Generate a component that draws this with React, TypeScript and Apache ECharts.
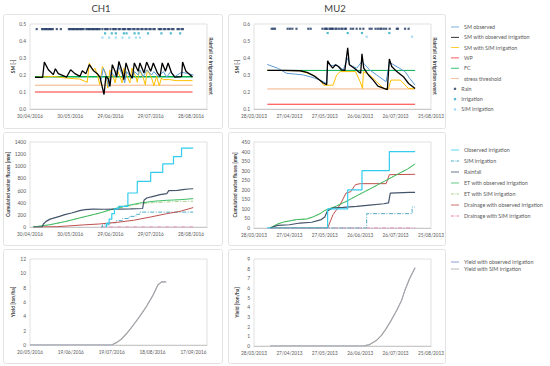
import { useEffect, useRef } from 'react';
import * as echarts from 'echarts';

type P = [number, number][];

const FONT = 'Lato, "Open Sans", "DejaVu Sans", sans-serif';

// x axes: days counted from these start dates
const CH1_START = [2016, 4, 30];
const CH1_YIELD_START = [2016, 5, 20];
const MU2_START = [2013, 3, 28];

// ---------- CH1 soil moisture ----------
const ch1SmObsIrr: P = [[3.7,0.186],[9.4,0.186],[10.7,0.276],[13.7,0.231],[17.4,0.202],[18.9,0.237],[21.1,0.208],[27.3,0.188],[30.3,0.231],[33.5,0.208],[37.3,0.192],[39,0.225],[41.7,0.208],[44.2,0.261],[47.2,0.227],[50.2,0.208],[52.2,0.188],[55.2,0.085],[56.6,0.192],[58.4,0.178],[59.6,0.133],[61.4,0.261],[63.4,0.222],[64.6,0.188],[66.3,0.28],[69,0.212],[70,0.173],[71.6,0.271],[74.5,0.202],[76.3,0.182],[77.8,0.271],[80.7,0.222],[82,0.271],[85,0.212],[87,0.276],[90,0.222],[92,0.271],[95,0.212],[97,0.192],[98.6,0.271],[101,0.222],[103,0.271],[105.6,0.212],[108,0.188],[113,0.19],[113.8,0.276],[116.3,0.222],[119.3,0.202],[121.2,0.188]];
const ch1SmSim: P = [[3.7,0.186],[17.4,0.192],[27,0.182],[37,0.176],[42.7,0.157],[44.2,0.27],[47,0.227],[48.4,0.24],[50.4,0.2],[52,0.143],[54,0.25],[56.6,0.21],[58,0.123],[59.6,0.23],[62,0.19],[63.6,0.153],[65,0.23],[67.6,0.182],[68.6,0.153],[70,0.24],[73,0.182],[74.5,0.153],[76,0.24],[79,0.188],[80,0.157],[81.5,0.23],[84.5,0.182],[86,0.143],[87.5,0.23],[90.7,0.182],[92.4,0.137],[94.4,0.192],[96.4,0.137],[98,0.182],[99.4,0.173],[104,0.173],[109,0.167],[121.2,0.167]];
const ch1SmObserved: P = [[53,0.172],[54.7,0.24],[57,0.19],[58.6,0.13],[60.6,0.22],[63,0.19],[66,0.25],[69,0.2],[70.6,0.153],[72,0.22],[75.8,0.18],[78,0.22],[80.7,0.2],[82,0.23],[84.5,0.19],[87,0.23],[90.7,0.2],[92.4,0.22],[95.6,0.19],[99.4,0.22],[102,0.188],[105,0.22],[108,0.19],[113,0.216],[117,0.21],[122,0.2]];
const ch1Wp: P = [[3.7,0.1],[121.2,0.1]];
const ch1Fc: P = [[3.7,0.19],[121.2,0.19]];
const ch1Stress: P = [[3.7,0.14],[121.2,0.14]];
const ch1RainDays = [5,9,10,11,12,13,14,15,16,17,20,23,29,30,31,32,33,34,35,36,37,38,39,40,42,43,44,45,46,47,48,49,50,51,52,54,56,57,58,60,62,63,64,66,67,69,70,71,73,74,75,77,78,80,81,83,84,86,87,89,90,92,93,96,97,98,100,101,103,104,106,107,110,111,113,114];
const ch1IrrDays = [56,61,64,70,72,78,81,88,98,105,112];
const ch1SimIrrDays = [54,59,64,69,74,79,82];

// ---------- MU2 soil moisture ----------
const mu2SmObsIrr: P = [[11.3,0.327],[25,0.327],[39,0.325],[45,0.315],[52,0.29],[58.8,0.253],[61.6,0.243],[62.4,0.384],[64.4,0.36],[66.7,0.34],[69,0.36],[71.5,0.35],[74,0.33],[77,0.327],[79.4,0.46],[80.8,0.36],[85,0.34],[88.4,0.32],[90.4,0.31],[91.5,0.425],[93,0.34],[97,0.3],[101,0.27],[105,0.235],[113,0.214],[114.7,0.394],[116.7,0.35],[121,0.32],[126.6,0.29],[131,0.25],[136.5,0.22]];
const mu2SmObserved: P = [[11.3,0.362],[20,0.34],[27.7,0.31],[35,0.305],[42,0.3],[50,0.285],[56,0.27],[61.6,0.25],[62.4,0.37],[66,0.355],[70,0.36],[75.7,0.33],[79.4,0.4],[81,0.36],[87,0.34],[91.5,0.38],[94,0.36],[98,0.33],[104,0.3],[112,0.26],[114.7,0.375],[122,0.345],[128,0.32],[132,0.28],[136.5,0.24]];
const mu2SmSim: P = [[11.3,0.327],[39,0.325],[50,0.3],[57,0.26],[59,0.24],[67,0.24],[70,0.3],[73,0.32],[86,0.32],[90,0.26],[92,0.22],[92.7,0.32],[98,0.3],[104,0.26],[110,0.22],[114,0.22],[116,0.27],[124,0.27],[131,0.22],[136.5,0.22]];
const mu2Wp: P = [[11.3,0.128],[136.5,0.128]];
const mu2Fc: P = [[11.3,0.327],[136.5,0.327]];
const mu2Stress: P = [[11.3,0.218],[136.5,0.218]];
const mu2RainDays = [15,16.4,17.8,28.5,30.5,32.5,36,46,48,58,60,61,62,64,65,66,67,69,70,72,74,75,77,78,82,84,87,90,92.7,98,99.7,103,105,107,108,110,112,115,121,122,128,131];
const mu2IrrDays = [62.4,79.4,91.5,114.7];
const mu2SimIrrDays = [95.5,134];

// ---------- CH1 cumulated water fluxes [mm] ----------
const ch1CumIrr: P = [[56,0],[57,60],[59,130],[61,220],[63,300],[66,340],[73,560],[80,750],[90,900],[99,1040],[107,1160],[113,1300],[121.7,1300]];
const ch1CumSimIrr: P = [[53,0],[54,35],[59,70],[64,105],[69,140],[74,175],[79,210],[82,245],[121.7,245]];
const ch1CumRain: P = [[2.5,0],[9,0],[10,50],[12,93],[15,130],[22,175],[26,203],[31,230],[37,270],[41,285],[47,296],[55,292],[65,295],[75,298],[84,305],[85,440],[87,478],[92,505],[97,532],[102,550],[103.5,598],[110,604],[114,615],[118,626],[121.7,630]];
const ch1EtObs: P = [[2.5,0],[15,38],[27,93],[40,165],[52,230],[60,285],[72,351],[82,395],[92,423],[102,440],[112,450],[121.7,467]];
const ch1EtSim: P = [[2.5,0],[15,38],[27,93],[40,165],[52,230],[60,280],[72,340],[82,380],[92,400],[102,412],[112,420],[121.7,425]];
const ch1DrainObs: P = [[2.5,0],[20,5],[40,35],[52,50],[65,77],[77,110],[90,165],[102,220],[112,258],[121.7,320]];
const ch1DrainSim: P = [[53,0],[121.7,0]];

// ---------- MU2 cumulated water fluxes [mm] ----------
const mu2CumIrr: P = [[11.3,0],[62.4,100],[79.4,200],[91.5,300],[114.7,400],[136.5,400]];
const mu2CumSimIrr: P = [[11.3,0],[95.5,75],[134,110],[136.5,110]];
const mu2CumRain: P = [[13.6,0],[20,14],[30,17],[39,26],[49,30],[57,44],[60,58],[62,87],[64,96],[67,105],[75.7,108],[87,113],[98,120],[110,127],[114,131],[115.5,183],[132,186],[136.5,186]];
const mu2EtObs: P = [[13.6,0],[20,21],[25,31],[36,44],[44.6,47],[50,58],[56,75],[60,92],[64,101],[70,115],[80,145],[90,178],[100,210],[110,243],[120,276],[130,308],[136.5,335]];
const mu2EtSim: P = [[13.6,0],[20,21],[25,31],[36,44],[44.6,47],[50,58],[56,75],[60,92],[64,101],[70,115],[80,145],[90,178],[100,210],[110,243],[120,276],[130,308],[136.5,335]];
const mu2DrainObs: P = [[13.6,0],[62.4,0],[67,70],[73,122],[78,183],[82,190],[86,227],[90,232],[112,232],[114.7,279],[136.5,281]];
const mu2DrainSim: P = [[13.6,0],[136.5,0]];

// ---------- Yield [ton/ha] ----------
const ch1Yield: P = [[0,0],[60,0],[63.4,0.33],[67,0.8],[71,1.6],[76,2.8],[80.6,4],[85.6,5.4],[90.5,7],[94,8.4],[96.6,8.8],[100,8.8]];
const mu2Yield: P = [[13.6,0],[92.7,0],[98,0.15],[104,0.6],[108,1.1],[112,1.8],[116,2.6],[121,3.7],[125,4.7],[128,5.8],[132,7.0],[136.5,8.1]];

const C = {
  smObs: '#5B9BD5', black: '#000000', smSim: '#FFC000', wp: '#FF3333', fc: '#00B050', stress: '#F4B183',
  rain: '#1F3864', irr: '#27A9C1', simIrr: '#8FD5F0',
  cumIrr: '#33CCEE', cumSim: '#4BACC6', cumRain: '#44546A', etObs: '#3DBB63', etSim: '#A9D18E',
  drObs: '#C0504D', drSim: '#E87DB5', yObs: '#7083C8', ySim: '#A6A6A6',
};
const DASHDOT = [4, 1.5, 1, 1.5];
const ICON_LINE = 'path://M0,0h10v1h-10z';
const ICON_DASHDOT = 'path://M0,0h3.5v1h-3.5zM4.8,0h0.9v1h-0.9zM7,0h3v1h-3z';

const pad = (n: number) => (n < 10 ? '0' + n : '' + n);
const fmtDate = (s: number[], v: number) => {
  const d = new Date(Date.UTC(s[0], s[1] - 1, s[2]) + v * 86400000);
  return `${pad(d.getUTCDate())}/${pad(d.getUTCMonth() + 1)}/${d.getUTCFullYear()}`;
};

function line(name: string, data: P, i: number, color: string, o: any = {}) {
  return {
    type: 'line', name, data, xAxisIndex: i, yAxisIndex: i, symbol: 'none', silent: true,
    step: o.step ?? false, z: o.z ?? 2,
    lineStyle: { color, width: o.width ?? 1, type: o.type ?? 'solid' },
    itemStyle: { color },
  };
}
function events(name: string, days: number[], y: number, i: number, color: string) {
  return {
    type: 'scatter', name, data: days.map((d) => [d, y]), xAxisIndex: i, yAxisIndex: i,
    symbol: 'rect', symbolSize: 2.2, silent: true, itemStyle: { color }, z: 5,
  };
}

const gridBox = [
  { left: 30, top: 24, width: 177, height: 85 },
  { left: 254, top: 24, width: 177, height: 85 },
  { left: 30, top: 142, width: 177, height: 85 },
  { left: 254, top: 142, width: 177, height: 86 },
  { left: 30, top: 259, width: 177, height: 86 },
  { left: 254, top: 259, width: 177, height: 87 },
];
const xSpec = [
  { start: CH1_START, max: 132 },
  { start: MU2_START, max: 150 },
  { start: CH1_START, max: 132 },
  { start: MU2_START, max: 150 },
  { start: CH1_YIELD_START, max: 130 },
  { start: MU2_START, max: 150 },
];
const ySpec = [
  { min: 0, max: 0.5, interval: 0.1, dec: 1, name: 'SM [-]' },
  { min: 0.1, max: 0.6, interval: 0.1, dec: 1, name: 'SM [-]' },
  { min: 0, max: 1400, interval: 200, dec: 0, name: 'Cumulated water fluxes [mm]' },
  { min: 0, max: 450, interval: 50, dec: 0, name: 'Cumulated water fluxes [mm]' },
  { min: 0, max: 12, interval: 2, dec: 0, name: 'Yield [ton/ha]' },
  { min: 0, max: 9, interval: 1, dec: 0, name: 'Yield [ton/ha]' },
];

const labelStyle = { fontSize: 4.7, color: '#595959', fontFamily: FONT };
const legendText = { fontSize: 5.4, color: '#595959', fontFamily: FONT, lineHeight: 6 };

const legSM = ['SM observed', 'SM with observed irrigation', 'SM with SIM irrigation', 'WP', 'FC', 'stress threshold'];
const legEvents = ['Rain', 'Irrigation', 'SIM Irrigation'];
const legFlux = ['Observed irrigation', 'SIM irrigation', 'Rainfall', 'ET with observed irrigation', 'ET with SIM irrigation', 'Drainage with observed irrigation', 'Drainage with SIM irrigation'];
const legYield = ['Yield with observed irrigation', 'Yield with SIM irrigation'];
const dashed = new Set(['SIM irrigation', 'ET with SIM irrigation', 'Drainage with SIM irrigation']);

function buildOption() {
  const grid = gridBox.map((g) => ({ ...g, show: true, borderColor: '#D9D9D9', borderWidth: 0.8, backgroundColor: 'transparent' }));
  const xAxis = xSpec.map((s, i) => ({
    type: 'value', gridIndex: i, min: 0, max: s.max, interval: 30,
    axisLine: { show: true, onZero: false, lineStyle: { color: '#BFBFBF', width: 0.8 } },
    axisTick: { show: false }, splitLine: { show: false },
    axisLabel: { ...labelStyle, margin: 4, formatter: (v: number) => (Math.abs(v % 30) < 1e-6 ? fmtDate(s.start, v) : '') },
  }));
  const yAxis = ySpec.map((s, i) => ({
    type: 'value', gridIndex: i, min: s.min, max: s.max, interval: s.interval,
    axisLine: { show: false }, axisTick: { show: false }, splitLine: { show: false },
    axisLabel: { ...labelStyle, fontSize: 4.9, margin: 4, formatter: (v: number) => v.toFixed(s.dec) },
    name: s.name, nameLocation: 'middle', nameGap: 15,
    nameTextStyle: { fontSize: 5, fontWeight: 'bold', color: '#404040', fontFamily: FONT },
  }));

  const series: any[] = [
    // CH1 SM
    line('WP', ch1Wp, 0, C.wp),
    line('stress threshold', ch1Stress, 0, C.stress),
    line('FC', ch1Fc, 0, C.fc, { width: 1.5 }),
    line('SM with SIM irrigation', ch1SmSim, 0, C.smSim),
    line('SM observed', ch1SmObserved, 0, C.smObs),
    line('SM with observed irrigation', ch1SmObsIrr, 0, C.black, { width: 1.3, z: 3 }),
    events('Rain', ch1RainDays, 0.47, 0, C.rain),
    events('Irrigation', ch1IrrDays, 0.445, 0, C.irr),
    events('SIM Irrigation', ch1SimIrrDays, 0.42, 0, C.simIrr),
    // MU2 SM
    line('WP', mu2Wp, 1, C.wp),
    line('stress threshold', mu2Stress, 1, C.stress),
    line('FC', mu2Fc, 1, C.fc),
    line('SM with SIM irrigation', mu2SmSim, 1, C.smSim),
    line('SM observed', mu2SmObserved, 1, C.smObs),
    line('SM with observed irrigation', mu2SmObsIrr, 1, C.black, { width: 1.3, z: 3 }),
    events('Rain', mu2RainDays, 0.572, 1, C.rain),
    events('Irrigation', mu2IrrDays, 0.547, 1, C.irr),
    events('SIM Irrigation', mu2SimIrrDays, 0.525, 1, C.simIrr),
    // CH1 fluxes
    line('Drainage with SIM irrigation', ch1DrainSim, 2, C.drSim, { type: DASHDOT }),
    line('ET with SIM irrigation', ch1EtSim, 2, C.etSim, { type: DASHDOT }),
    line('SIM irrigation', ch1CumSimIrr, 2, C.cumSim, { step: 'end', type: DASHDOT }),
    line('Drainage with observed irrigation', ch1DrainObs, 2, C.drObs),
    line('ET with observed irrigation', ch1EtObs, 2, C.etObs),
    line('Rainfall', ch1CumRain, 2, C.cumRain, { width: 1.2 }),
    line('Observed irrigation', ch1CumIrr, 2, C.cumIrr, { step: 'end', width: 1.2 }),
    // MU2 fluxes
    line('Drainage with SIM irrigation', mu2DrainSim, 3, C.drSim, { type: DASHDOT }),
    line('ET with SIM irrigation', mu2EtSim, 3, C.etSim, { type: DASHDOT }),
    line('SIM irrigation', mu2CumSimIrr, 3, C.cumSim, { step: 'end', type: DASHDOT }),
    line('Drainage with observed irrigation', mu2DrainObs, 3, C.drObs),
    line('ET with observed irrigation', mu2EtObs, 3, C.etObs),
    line('Rainfall', mu2CumRain, 3, C.cumRain, { width: 1.2 }),
    line('Observed irrigation', mu2CumIrr, 3, C.cumIrr, { step: 'end', width: 1.2 }),
    // Yield
    line('Yield with observed irrigation', ch1Yield, 4, C.yObs, { width: 0.6 }),
    line('Yield with SIM irrigation', ch1Yield, 4, C.ySim, { width: 1.2, z: 3 }),
    line('Yield with observed irrigation', mu2Yield, 5, C.yObs, { width: 0.6 }),
    line('Yield with SIM irrigation', mu2Yield, 5, C.ySim, { width: 1.2, z: 3 }),
  ];

  const lineItems = (names: string[]) => names.map((n) => ({ name: n, icon: dashed.has(n) ? ICON_DASHDOT : ICON_LINE }));
  const legBase = { orient: 'vertical', left: 451, itemWidth: 8, itemHeight: 1.1, selectedMode: false, textStyle: legendText, padding: 0 };
  const legend = [
    { ...legBase, top: 24, itemGap: 4.3, data: lineItems(legSM) },
    { ...legBase, left: 453.7, itemWidth: 2.6, itemHeight: 2.6, top: 85.8, itemGap: 4.3, data: legEvents.map((n) => ({ name: n, icon: 'circle' })) },
    { ...legBase, top: 147, itemGap: 5, data: lineItems(legFlux) },
    { ...legBase, top: 259, itemGap: 1, data: lineItems(legYield) },
  ];

  const rows = [[14, 128], [132, 245], [249, 363]];
  const cols = [[3, 222], [228, 445]];
  const boxes: any[] = [];
  rows.forEach((r) => cols.forEach((c) => boxes.push({
    type: 'rect', silent: true, z: -1,
    shape: { x: c[0] + 0.5, y: r[0] + 0.5, width: c[1] - c[0], height: r[1] - r[0], r: 2 },
    style: { fill: 'none', stroke: '#E3E3E3', lineWidth: 1 },
  })));
  const texts: any[] = [
    { type: 'text', x: 101, y: 8, style: { text: 'CH1', fill: '#404040', font: `9.5px ${FONT}`, align: 'center', verticalAlign: 'middle' } },
    { type: 'text', x: 335, y: 8, style: { text: 'MU2', fill: '#404040', font: `9.5px ${FONT}`, align: 'center', verticalAlign: 'middle' } },
    { type: 'text', x: 211, y: 66, rotation: -Math.PI / 2, style: { text: 'Rainfall or irrigation event', font: `bold 5px ${FONT}`, fill: '#404040', align: 'center', verticalAlign: 'middle' } },
    { type: 'text', x: 435, y: 66, rotation: -Math.PI / 2, style: { text: 'Rainfall or irrigation event', font: `bold 5px ${FONT}`, fill: '#404040', align: 'center', verticalAlign: 'middle' } },
  ];

  return {
    animation: false,
    backgroundColor: '#ffffff',
    textStyle: { fontFamily: FONT },
    grid, xAxis, yAxis, series, legend,
    graphic: [...boxes, ...texts],
  };
}

export default function App() {
  const ref = useRef<HTMLDivElement>(null);
  useEffect(() => {
    const chart = echarts.init(ref.current!, null, { renderer: 'svg' });
    chart.setOption(buildOption() as any);
    return () => chart.dispose();
  }, []);
  return <div ref={ref} style={{ position: 'fixed', left: 0, top: 0, width: 550, height: 366, background: '#fff' }} />;
}
